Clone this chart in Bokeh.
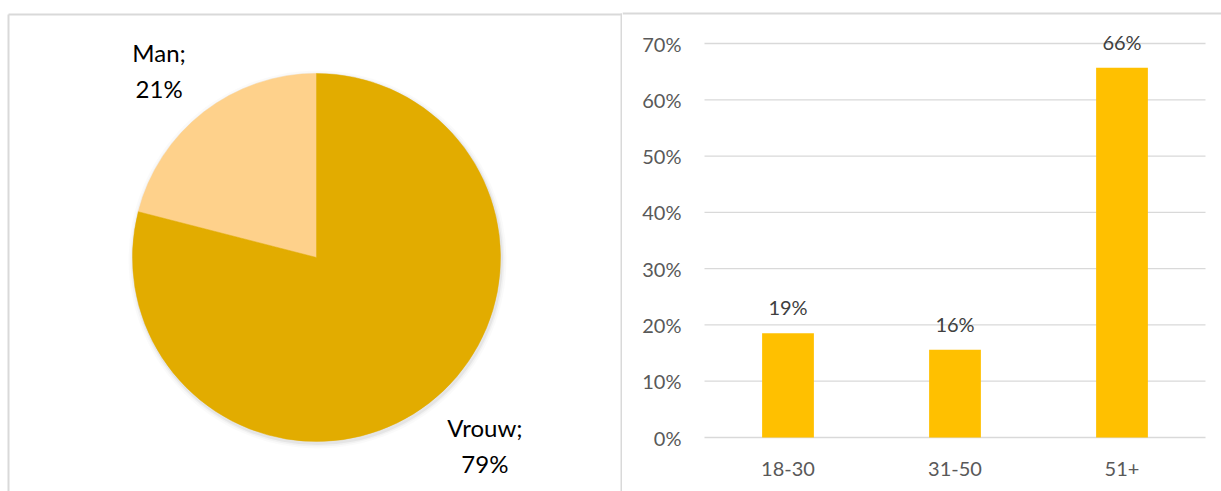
import math
from bokeh.plotting import figure
from bokeh.layouts import row
from bokeh.models import Range1d, Span
from bokeh.embed import file_html
from bokeh.resources import INLINE
from bokeh.core.properties import value

# ---------------- data ----------------
genders = ["Man", "Vrouw"]
gender_share = [21, 79]
gender_colors = ["#FED18B", "#E2AC00"]

age_groups = ["18-30", "31-50", "51+"]
age_share = [18.5, 15.6, 65.7]
age_labels = ["19%", "16%", "66%"]
y_ticks = [0, 10, 20, 30, 40, 50, 60, 70]
y_tick_labels = ["0%", "10%", "20%", "30%", "40%", "50%", "60%", "70%"]

# ---------------- layout constants ----------------
W, H = 1221, 491
LW = 622
FONT = "Lato"
BORDER = "#D9D9D9"

# ---------------- pie ----------------
pie = figure(width=LW, height=H, x_range=Range1d(0, LW), y_range=Range1d(0, H),
             x_axis_type=None, y_axis_type=None, output_backend="svg",
             toolbar_location=None, min_border=0, outline_line_color=None,
             frame_align=False)
pie.grid.visible = False

cx, cy, r = 316, H - 257, 184

# soft shadow
for k, a in [(5, 0.02), (3, 0.03), (1.5, 0.05)]:
    pie.circle(x=[cx + 1], y=[cy - 2], radius=r + k, fill_color="#000000",
               fill_alpha=a, line_color=None)

total = sum(gender_share)
starts, ends, mids = [], [], []
a0 = math.pi / 2
for v in gender_share:
    a1 = a0 + 2 * math.pi * v / total
    starts.append(a0)
    ends.append(a1)
    mids.append((a0 + a1) / 2)
    a0 = a1

pie.wedge(x=cx, y=cy, radius=r, start_angle=starts, end_angle=ends,
          fill_color=gender_colors, line_color=gender_colors, line_width=0.5)

lab_r = 247
nudge = [(-6, -8), (17, 7)]
lx = [cx + lab_r * math.cos(m) + n[0] for m, n in zip(mids, nudge)]
ly = [cy + lab_r * math.sin(m) + n[1] for m, n in zip(mids, nudge)]
pie_text = [f"{g};\n{v}%" for g, v in zip(genders, gender_share)]
pie.text(x=lx, y=ly, text=pie_text, text_font=value(FONT), text_font_size="24px",
         text_color="#000000", text_align="center", text_baseline="middle",
         text_line_height=1.25)

# panel borders (left panel)
pie.segment(x0=[8, 8, 621], y0=[0, H - 14, 0], x1=[8, LW, 621], y1=[H - 14, H - 14, H - 13],
            line_color=BORDER, line_width=2)

# ---------------- bar chart ----------------
RW = W - LW
base_px = 437
px_per_unit = (base_px - 43) / 70.0
cat_px = 167.0
x0 = -(787.5 - LW) / cat_px
x1 = x0 + RW / cat_px

bar = figure(width=RW, height=H, x_range=Range1d(x0, x1),
             y_range=Range1d(-(H - base_px) / px_per_unit, base_px / px_per_unit),
             x_axis_type=None, y_axis_type=None, output_backend="svg",
             toolbar_location=None, min_border=0, outline_line_color=None,
             frame_align=False)
bar.grid.visible = False

xs = list(range(len(age_groups)))
n = len(age_groups)

bar.segment(x0=[-0.5] * len(y_ticks), x1=[n - 0.5] * len(y_ticks), y0=y_ticks, y1=y_ticks,
            line_color=BORDER, line_width=1.3)

bar.vbar(x=xs, top=age_share, width=0.31, fill_color="#FFC000", line_color=None)

# data labels
bar.text(x=xs, y=age_share, text=age_labels, y_offset=-26, text_font=value(FONT),
         text_font_size="20px", text_color="#404040", text_align="center",
         text_baseline="middle")

# y tick labels
bar.text(x=[-0.5] * len(y_ticks), y=y_ticks, text=y_tick_labels, x_offset=-23,
         text_font=value(FONT), text_font_size="20px", text_color="#595959",
         text_align="right", text_baseline="middle")

# x category labels
bar.text(x=xs, y=[0] * n, text=age_groups, y_offset=31,
         text_font=value(FONT), text_font_size="20px", text_color="#595959",
         text_align="center", text_baseline="middle")

bar.add_layout(Span(location=(base_px - 13) / px_per_unit, dimension="width",
                    line_color=BORDER, line_width=2))

layout = row(pie, bar, spacing=0)
open("out.html", "w").write(file_html(layout, INLINE))
